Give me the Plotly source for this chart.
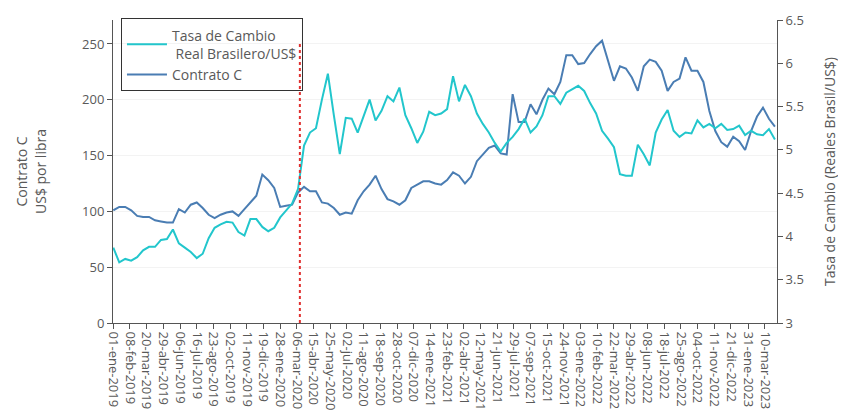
import numpy as np
import plotly.graph_objects as go

# ---------------- data ----------------
fechas = [
    "2019-01-01", "2019-01-15", "2019-01-29", "2019-02-12", "2019-02-26", "2019-03-12", "2019-03-26",
    "2019-04-09", "2019-04-23", "2019-05-07", "2019-05-21", "2019-06-04", "2019-06-18", "2019-07-02",
    "2019-07-16", "2019-07-30", "2019-08-13", "2019-08-27", "2019-09-10", "2019-09-24", "2019-10-08",
    "2019-10-22", "2019-11-05", "2019-11-19", "2019-12-03", "2019-12-17", "2019-12-31",
    "2020-01-14", "2020-01-28", "2020-02-11", "2020-02-25", "2020-03-10", "2020-03-24", "2020-04-07",
    "2020-04-21", "2020-05-05", "2020-05-19", "2020-06-02", "2020-06-16", "2020-06-30", "2020-07-14",
    "2020-07-28", "2020-08-11", "2020-08-25", "2020-09-08", "2020-09-22", "2020-10-06", "2020-10-20",
    "2020-11-03", "2020-11-17", "2020-12-01", "2020-12-15", "2020-12-29",
    "2021-01-12", "2021-01-26", "2021-02-09", "2021-02-23", "2021-03-09", "2021-03-23", "2021-04-06",
    "2021-04-20", "2021-05-04", "2021-05-18", "2021-06-01", "2021-06-15", "2021-06-29", "2021-07-13",
    "2021-07-27", "2021-08-10", "2021-08-24", "2021-09-07", "2021-09-21", "2021-10-05", "2021-10-19",
    "2021-11-02", "2021-11-16", "2021-11-30", "2021-12-14", "2021-12-28",
    "2022-01-11", "2022-01-25", "2022-02-08", "2022-02-22", "2022-03-08", "2022-03-22", "2022-04-05",
    "2022-04-19", "2022-05-03", "2022-05-17", "2022-05-31", "2022-06-14", "2022-06-28", "2022-07-12",
    "2022-07-26", "2022-08-09", "2022-08-23", "2022-09-06", "2022-09-20", "2022-10-04", "2022-10-18",
    "2022-11-01", "2022-11-15", "2022-11-29", "2022-12-13", "2022-12-27",
    "2023-01-10", "2023-01-24", "2023-02-07", "2023-02-21", "2023-03-07", "2023-03-21", "2023-04-04",
]

contrato_c = [
    101, 104, 104, 101, 96, 95, 95, 92, 91, 90, 90, 102, 99, 106, 108, 103, 97, 94, 97, 99, 100,
    96, 102, 108, 114, 133, 128,
    121, 104, 105, 106, 117, 122, 118, 118, 108, 107, 103, 97, 99, 98, 110, 118, 124, 132, 120,
    111, 109, 106, 110, 121, 124, 127,
    127, 125, 124, 128, 135, 132, 125, 131, 145, 151, 157, 159, 152, 151, 205, 180, 180, 196,
    187, 200, 210, 205, 216, 240, 240, 232,
    233, 241, 248, 253, 234, 217, 230, 228, 220, 208, 230, 236, 234, 226, 208, 216, 219, 238,
    226, 226, 216, 190, 172, 162, 158, 167,
    163, 155, 172, 185, 193, 183, 176,
]

tasa_cambio = [
    3.87, 3.70, 3.74, 3.72, 3.76, 3.84, 3.88, 3.88, 3.96, 3.97, 4.08, 3.92, 3.87, 3.82, 3.75,
    3.80, 3.98, 4.10, 4.14, 4.17, 4.16, 4.05, 4.01, 4.20, 4.20, 4.11, 4.06,
    4.10, 4.22, 4.30, 4.38, 4.55, 5.05, 5.20, 5.25, 5.58, 5.88, 5.40, 4.95, 5.37, 5.36, 5.20,
    5.40, 5.58, 5.34, 5.45, 5.62, 5.56, 5.72, 5.40, 5.25, 5.08, 5.21,
    5.44, 5.40, 5.42, 5.47, 5.85, 5.56, 5.75, 5.62, 5.42, 5.30, 5.20, 5.08, 4.98, 5.08, 5.15,
    5.24, 5.36, 5.20, 5.27, 5.40, 5.62, 5.62, 5.53, 5.66, 5.70, 5.74,
    5.68, 5.54, 5.42, 5.22, 5.13, 5.03, 4.72, 4.70, 4.70, 5.06, 4.95, 4.82, 5.20, 5.35, 5.46,
    5.22, 5.15, 5.20, 5.19, 5.34, 5.26, 5.30, 5.25, 5.30, 5.23, 5.24,
    5.28, 5.17, 5.22, 5.18, 5.17, 5.24, 5.12,
]

etiquetas_x = [
    "01-ene-2019", "08-feb-2019", "20-mar-2019", "29-abr-2019", "06-jun-2019", "16-jul-2019",
    "23-ago-2019", "02-oct-2019", "11-nov-2019", "19-dic-2019", "28-ene-2020", "06-mar-2020",
    "15-abr-2020", "25-may-2020", "02-jul-2020", "11-ago-2020", "18-sep-2020", "28-oct-2020",
    "07-dic-2020", "14-ene-2021", "23-feb-2021", "02-abr-2021", "12-may-2021", "21-jun-2021",
    "29-jul-2021", "07-sep-2021", "15-oct-2021", "24-nov-2021", "03-ene-2022", "10-feb-2022",
    "22-mar-2022", "29-abr-2022", "08-jun-2022", "18-jul-2022", "25-ago-2022", "04-oct-2022",
    "11-nov-2022", "21-dic-2022", "31-ene-2023", "10-mar-2023",
]

fecha_evento = "2020-03-13"
ticks_izq = [0, 50, 100, 150, 200, 250]
ticks_der = [3, 3.5, 4, 4.5, 5, 5.5, 6, 6.5]

# ---------------- helpers ----------------
MESES = {"ene": 1, "feb": 2, "mar": 3, "abr": 4, "may": 5, "jun": 6,
         "jul": 7, "ago": 8, "sep": 9, "oct": 10, "nov": 11, "dic": 12}


def a_iso(lbl):
    d, m, y = lbl.split("-")
    return f"{y}-{MESES[m]:02d}-{d}"


origen = np.datetime64("2019-01-01")


def idx(d):
    return int(np.busday_count(origen, np.datetime64(d)))


x = [idx(d) for d in fechas]
tickvals = [idx(a_iso(l)) for l in etiquetas_x]
x_evento = idx(fecha_evento)

FONT = "Open Sans"
GRIS = "#595959"
EJE = "#555555"

fig = go.Figure()
fig.add_trace(go.Scatter(
    x=x, y=tasa_cambio, mode="lines", yaxis="y2",
    name="Tasa de Cambio<br>\u00a0Real Brasilero/US$",
    line=dict(color="#22c6cc", width=2),
))
fig.add_trace(go.Scatter(
    x=x, y=contrato_c, mode="lines", yaxis="y",
    name="Contrato C",
    line=dict(color="#4a7db3", width=2),
))

fig.add_shape(type="line", xref="x", yref="y", x0=x_evento, x1=x_evento, y0=0, y1=250,
              line=dict(color="#e0302f", width=2, dash="dot"), layer="above")

# page body has an 8px default margin: the figure is sized/margined to compensate
fig.update_layout(
    width=838, height=402,
    margin=dict(l=105, r=69, t=12, b=87, autoexpand=False),
    paper_bgcolor="white", plot_bgcolor="white",
    font=dict(family=FONT, color=GRIS, size=12),
    showlegend=True,
    legend=dict(
        x=0.012, y=1.005, xanchor="left", yanchor="top",
        bgcolor="rgba(0,0,0,0)", bordercolor="#333333", borderwidth=1,
        font=dict(family=FONT, size=14, color=GRIS),
        itemwidth=40, tracegroupgap=4,
    ),
    xaxis=dict(
        range=[-0.5, 1113.5], tickmode="array", tickvals=tickvals, ticktext=etiquetas_x,
        tickangle=90, ticks="outside", ticklen=5, tickcolor=EJE,
        showline=True, linecolor=EJE, linewidth=1, showgrid=False, zeroline=False,
        tickfont=dict(family=FONT, size=13, color=GRIS), automargin=False,
    ),
    yaxis=dict(
        range=[0, 271.5], tickmode="array", tickvals=ticks_izq,
        ticks="outside", ticklen=5, tickcolor=EJE,
        showline=True, linecolor=EJE, linewidth=1,
        showgrid=True, gridcolor="#f3f3f3", zeroline=False,
        tickfont=dict(family=FONT, size=13, color=GRIS),
        title=dict(text="Contrato C<br>US$ por libra", standoff=32,
                   font=dict(family=FONT, size=14, color=GRIS)),
        automargin=False,
    ),
    yaxis2=dict(
        range=[3, 6.5], tickmode="array", tickvals=ticks_der,
        overlaying="y", side="right",
        ticks="outside", ticklen=5, tickcolor=EJE,
        showline=True, linecolor=EJE, linewidth=1,
        showgrid=False, zeroline=False,
        tickfont=dict(family=FONT, size=13, color=GRIS),
        title=dict(text="Tasa de Cambio (Reales Brasil/US$)", standoff=22,
                   font=dict(family=FONT, size=14, color=GRIS)),
        automargin=False,
    ),
)

fig.write_html("out.html")
